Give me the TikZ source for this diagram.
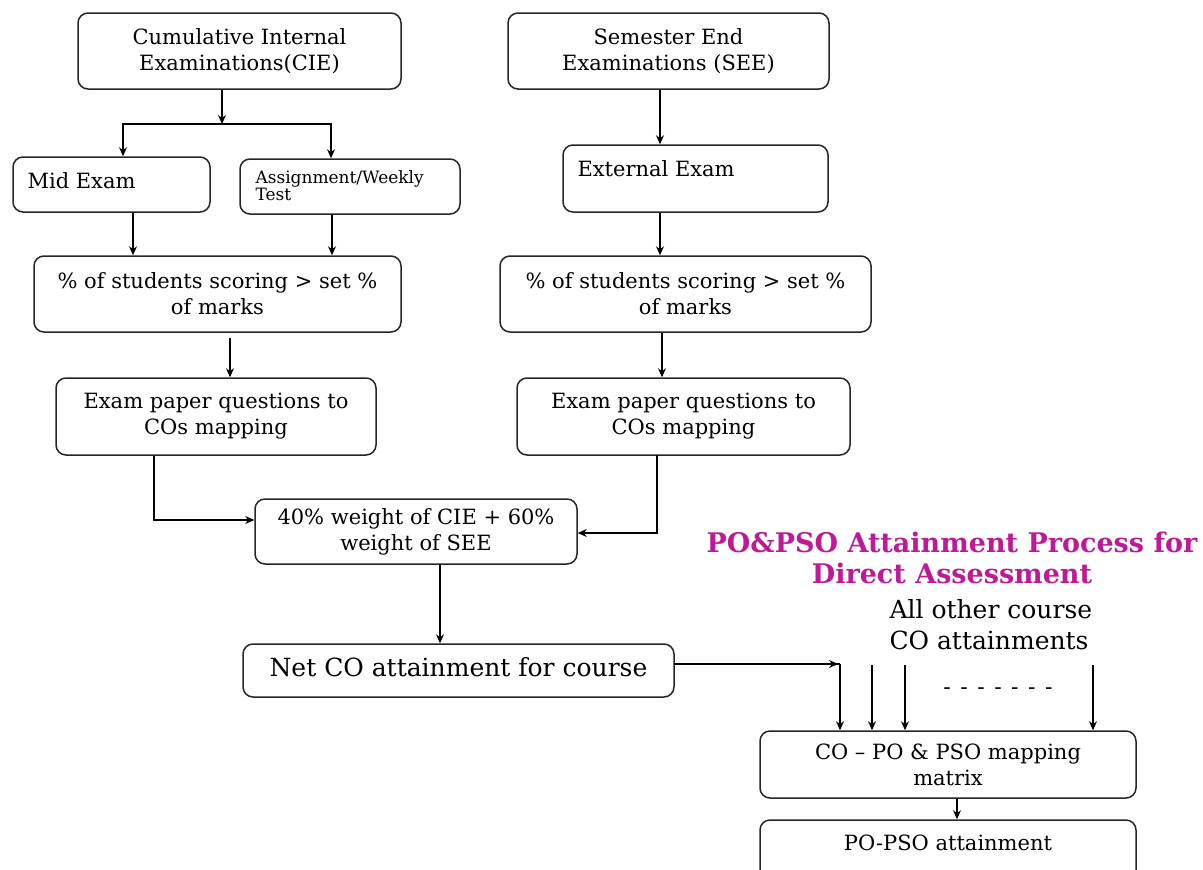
\documentclass[tikz,border=0pt]{standalone}
\usepackage{fontspec}
\setmainfont{DejaVu Serif}
\usetikzlibrary{arrows.meta}
\definecolor{ttl}{RGB}{190,25,150}
\tikzset{
  box/.style={draw=black!85, line width=1.5pt, rounded corners=10pt, inner sep=0pt, align=center},
  txt/.style={font=\fontsize{21}{26}\selectfont},
  conn/.style={line width=1.3pt, -{Stealth[length=9pt,width=8pt]}},
  plain/.style={line width=1.3pt},
}
\begin{document}
\begin{tikzpicture}[x=1pt,y=-1pt]
\useasboundingbox (0,0) rectangle (1203,870);
% boxes
\node (cie) [box, txt, minimum width=323pt, minimum height=76pt] at (239.5,51) {Cumulative Internal\\Examinations(CIE)};
\node (see) [box, txt, minimum width=321pt, minimum height=76pt] at (668.5,51) {Semester End\\Examinations (SEE)};
\node (mid) [box, minimum width=197pt, minimum height=55pt] at (111.5,184.5) {};
\node (midt) [txt, anchor=west] at (24,181) {Mid Exam};
\node (asg) [box, minimum width=220pt, minimum height=55pt] at (350,186.5) {};
\node (asgt) [font=\fontsize{17}{17}\selectfont, align=left, anchor=north west] at (252,167) {Assignment/Weekly\\Test};
\node (ext) [box, minimum width=265pt, minimum height=67pt] at (695.5,178.5) {};
\node (extt) [txt, anchor=west] at (574,169) {External Exam};
\node (pc) [box, txt, minimum width=367pt, minimum height=76pt] at (217.5,294) {\% of students scoring > set \%\\of marks};
\node (ps) [box, txt, minimum width=371pt, minimum height=76pt] at (685.5,294) {\% of students scoring > set \%\\of marks};
\node (ec) [box, txt, minimum width=320pt, minimum height=77pt] at (216,416.5) {Exam paper questions to\\COs mapping};
\node (es) [box, txt, minimum width=333pt, minimum height=77pt] at (683.5,416.5) {Exam paper questions to\\COs mapping};
\node (w) [box, txt, minimum width=322pt, minimum height=65pt] at (416,531.5) {40\% weight of CIE + 60\%\\weight of SEE};
\node (net) [box, minimum width=431pt, minimum height=53pt] at (458.5,670.5) {};
\node (nett) [font=\fontsize{25}{26}\selectfont] at (458.5,667) {Net CO attainment for course};
\node (ttlt) [font=\fontsize{27}{31}\selectfont\bfseries, text=ttl, align=center] at (952,557.5) {PO\&PSO Attainment Process for\\Direct Assessment};
\node (oth) [font=\fontsize{25}{31}\selectfont, align=left, anchor=west] at (886,624.5) {All other course\\CO attainments};
\node (dots) [font=\fontsize{22}{24}\selectfont] at (998,691) {-\hspace{9.5pt}-\hspace{9.5pt}-\hspace{9.5pt}-\hspace{9.5pt}-\hspace{9.5pt}-\hspace{9.5pt}-};
\node (map) [box, txt, minimum width=376pt, minimum height=67pt] at (948,764.5) {CO -- PO \& PSO mapping\\matrix};
\node (po) [box, minimum width=376pt, minimum height=70pt] at (948,855) {};
\node (pot) [txt] at (948,843) {PO-PSO attainment};
% coordinates
\coordinate (j1) at (222,124);
\coordinate (s3) at (230,338);
\coordinate (c1) at (154,520);
\coordinate (c2) at (657,533);
\coordinate (n1) at (840,664);
\coordinate (a2) at (872,665);
\coordinate (a3) at (905,665);
\coordinate (a4) at (1093,665);
\coordinate (s4) at (657,455);
% connectors
\draw[conn] (cie.south -| j1) -- (j1);
\draw[conn] (j1) -| (mid.north -| 123,0);
\draw[conn] (j1) -| (asg.north -| 331,0);
\draw[conn] (mid.south -| 133,0) -- (pc.north -| 133,0);
\draw[conn] (asg.south -| 332,0) -- (pc.north -| 332,0);
\draw[conn] (s3) -- (ec.north -| s3);
\draw[conn] (ec.south -| c1) |- (w.west |- c1);
\draw[conn] (see.south -| 660,0) -- (ext.north -| 660,0);
\draw[conn] (ext.south -| 660,0) -- (ps.north -| 660,0);
\draw[conn] (ps.south -| 662,0) -- (es.north -| 662,0);
\draw[conn] (s4) |- (w.east |- c2);
\draw[conn] (w.south -| 440,0) -- (net.north -| 440,0);
\draw[plain] (net.east |- n1) -- (n1);
\draw[conn] (net.east |- n1) -- (838,664);
\draw[conn] (n1) -- (map.north -| n1);
\draw[conn] (a2) -- (map.north -| a2);
\draw[conn] (a3) -- (map.north -| a3);
\draw[conn] (a4) -- (map.north -| a4);
\draw[conn] (map.south -| 957,0) -- (po.north -| 957,0);
\end{tikzpicture}
\end{document}
